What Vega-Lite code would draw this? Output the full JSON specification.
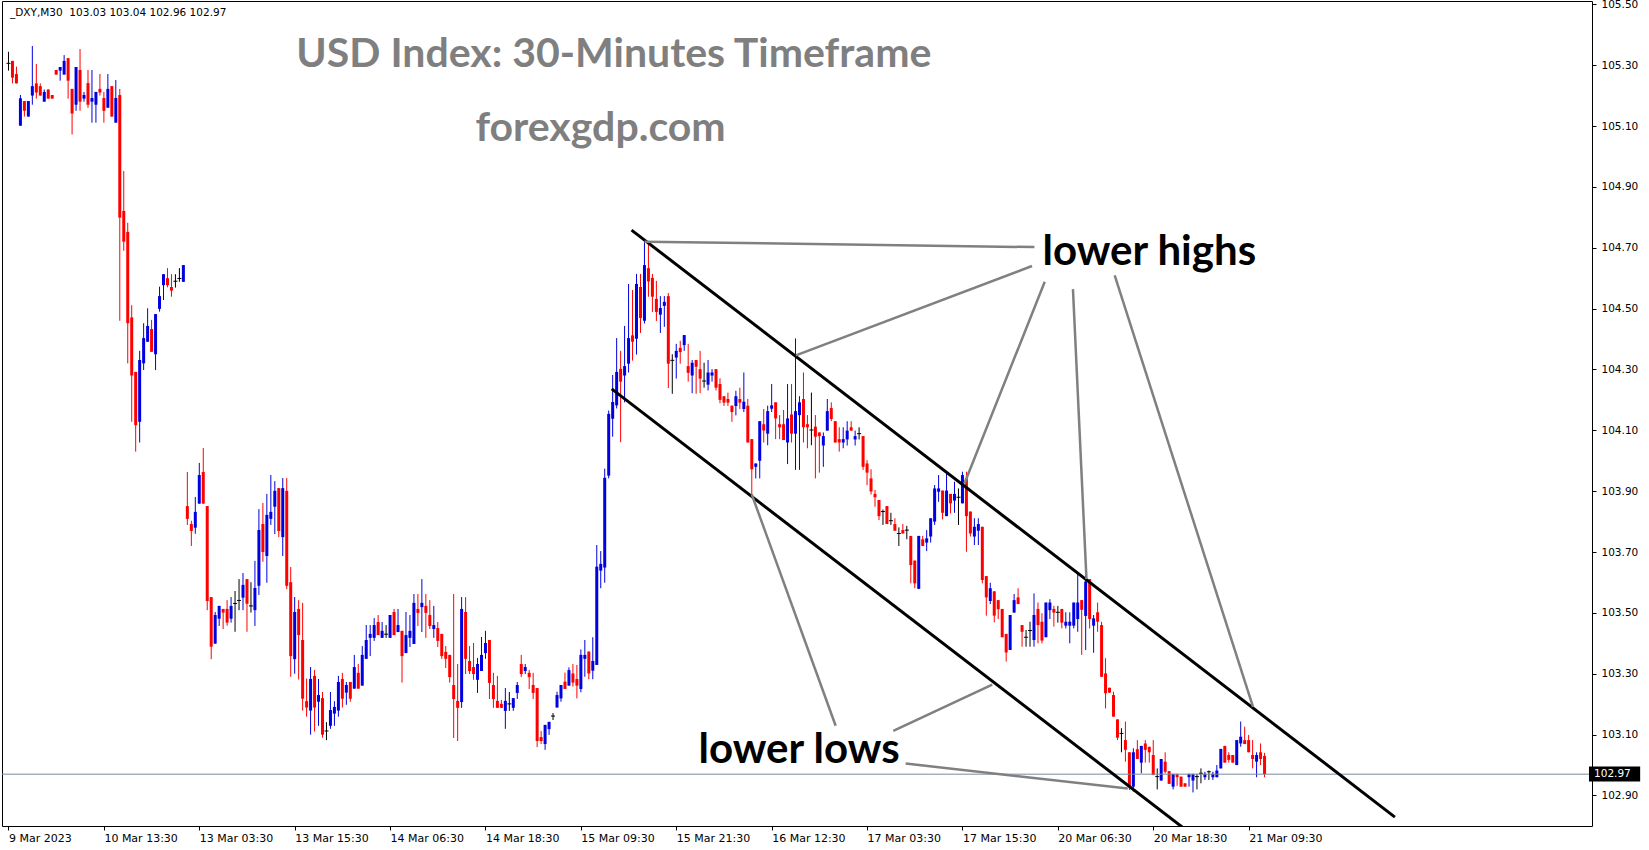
{
"$schema": "https://vega.github.io/schema/vega-lite/v6.json",
"width": 1590, "height": 825,
"autosize": {"type": "none"},
"padding": {"left": 2, "top": 1, "right": 57, "bottom": 24},
"background": "white",
"config": {"view": {"stroke": "#000000", "strokeWidth": 1}, "axis": {"grid": false, "domain": false, "labelFont": "DejaVu Sans", "labelColor": "#000000", "tickColor": "#000000"}},
"datasets": {
"candles": [
{"i":0,"o":105.306,"h":105.344,"l":105.282,"c":105.306},
{"i":1,"o":105.314,"h":105.314,"l":105.240,"c":105.259},
{"i":2,"o":105.271,"h":105.295,"l":105.240,"c":105.240},
{"i":3,"o":105.101,"h":105.202,"l":105.101,"c":105.191},
{"i":4,"o":105.182,"h":105.182,"l":105.131,"c":105.150},
{"i":5,"o":105.131,"h":105.182,"l":105.131,"c":105.182},
{"i":6,"o":105.200,"h":105.363,"l":105.170,"c":105.231},
{"i":7,"o":105.240,"h":105.304,"l":105.190,"c":105.210},
{"i":8,"o":105.231,"h":105.240,"l":105.200,"c":105.200},
{"i":9,"o":105.180,"h":105.220,"l":105.180,"c":105.212},
{"i":10,"o":105.220,"h":105.220,"l":105.190,"c":105.190},
{"i":11,"o":105.202,"h":105.202,"l":105.190,"c":105.190},
{"i":12,"o":105.284,"h":105.284,"l":105.269,"c":105.269},
{"i":13,"o":105.282,"h":105.294,"l":105.249,"c":105.294},
{"i":14,"o":105.269,"h":105.333,"l":105.269,"c":105.314},
{"i":15,"o":105.323,"h":105.323,"l":105.190,"c":105.249},
{"i":16,"o":105.222,"h":105.222,"l":105.072,"c":105.141},
{"i":17,"o":105.170,"h":105.294,"l":105.150,"c":105.294},
{"i":18,"o":105.284,"h":105.353,"l":105.150,"c":105.180},
{"i":19,"o":105.190,"h":105.212,"l":105.180,"c":105.202},
{"i":20,"o":105.241,"h":105.284,"l":105.160,"c":105.170},
{"i":21,"o":105.180,"h":105.284,"l":105.111,"c":105.192},
{"i":22,"o":105.170,"h":105.212,"l":105.111,"c":105.212},
{"i":23,"o":105.222,"h":105.271,"l":105.200,"c":105.210},
{"i":24,"o":105.192,"h":105.212,"l":105.111,"c":105.150},
{"i":25,"o":105.160,"h":105.271,"l":105.160,"c":105.222},
{"i":26,"o":105.231,"h":105.231,"l":105.131,"c":105.131},
{"i":27,"o":105.111,"h":105.251,"l":105.111,"c":105.192},
{"i":28,"o":105.202,"h":105.222,"l":104.460,"c":104.799},
{"i":29,"o":104.821,"h":104.952,"l":104.690,"c":104.720},
{"i":30,"o":104.752,"h":104.782,"l":104.320,"c":104.452},
{"i":31,"o":104.471,"h":104.511,"l":104.128,"c":104.280},
{"i":32,"o":104.292,"h":104.292,"l":104.030,"c":104.117},
{"i":33,"o":104.128,"h":104.361,"l":104.060,"c":104.331},
{"i":34,"o":104.320,"h":104.452,"l":104.298,"c":104.403},
{"i":35,"o":104.391,"h":104.501,"l":104.391,"c":104.443},
{"i":36,"o":104.433,"h":104.463,"l":104.358,"c":104.358},
{"i":37,"o":104.350,"h":104.482,"l":104.298,"c":104.482},
{"i":38,"o":104.499,"h":104.572,"l":104.490,"c":104.541},
{"i":39,"o":104.577,"h":104.613,"l":104.528,"c":104.613},
{"i":40,"o":104.600,"h":104.633,"l":104.570,"c":104.577},
{"i":41,"o":104.571,"h":104.613,"l":104.539,"c":104.559},
{"i":42,"o":104.590,"h":104.613,"l":104.569,"c":104.590},
{"i":43,"o":104.599,"h":104.633,"l":104.588,"c":104.599},
{"i":44,"o":104.588,"h":104.643,"l":104.588,"c":104.643},
{"i":45,"o":103.851,"h":103.963,"l":103.789,"c":103.809},
{"i":46,"o":103.792,"h":103.803,"l":103.720,"c":103.769},
{"i":47,"o":103.780,"h":103.881,"l":103.760,"c":103.832},
{"i":48,"o":103.859,"h":103.993,"l":103.859,"c":103.953},
{"i":49,"o":103.963,"h":104.042,"l":103.859,"c":103.859},
{"i":50,"o":103.851,"h":103.851,"l":103.509,"c":103.539},
{"i":51,"o":103.552,"h":103.552,"l":103.348,"c":103.389},
{"i":52,"o":103.399,"h":103.503,"l":103.399,"c":103.493},
{"i":53,"o":103.481,"h":103.523,"l":103.457,"c":103.523},
{"i":54,"o":103.513,"h":103.513,"l":103.447,"c":103.501},
{"i":55,"o":103.513,"h":103.542,"l":103.458,"c":103.468},
{"i":56,"o":103.481,"h":103.552,"l":103.468,"c":103.523},
{"i":57,"o":103.531,"h":103.572,"l":103.438,"c":103.531},
{"i":58,"o":103.541,"h":103.611,"l":103.509,"c":103.541},
{"i":59,"o":103.550,"h":103.631,"l":103.509,"c":103.592},
{"i":60,"o":103.611,"h":103.611,"l":103.438,"c":103.530},
{"i":61,"o":103.523,"h":103.601,"l":103.501,"c":103.523},
{"i":62,"o":103.509,"h":103.671,"l":103.457,"c":103.582},
{"i":63,"o":103.589,"h":103.841,"l":103.559,"c":103.772},
{"i":64,"o":103.792,"h":103.861,"l":103.668,"c":103.700},
{"i":65,"o":103.687,"h":103.891,"l":103.599,"c":103.822},
{"i":66,"o":103.809,"h":103.953,"l":103.789,"c":103.832},
{"i":67,"o":103.849,"h":103.933,"l":103.759,"c":103.901},
{"i":68,"o":103.910,"h":103.910,"l":103.749,"c":103.769},
{"i":69,"o":103.749,"h":103.943,"l":103.687,"c":103.910},
{"i":70,"o":103.901,"h":103.943,"l":103.578,"c":103.589},
{"i":71,"o":103.601,"h":103.651,"l":103.290,"c":103.358},
{"i":72,"o":103.348,"h":103.552,"l":103.300,"c":103.503},
{"i":73,"o":103.513,"h":103.542,"l":103.281,"c":103.427},
{"i":74,"o":103.411,"h":103.533,"l":103.179,"c":103.218},
{"i":75,"o":103.210,"h":103.284,"l":103.159,"c":103.189},
{"i":76,"o":103.179,"h":103.322,"l":103.100,"c":103.283},
{"i":77,"o":103.293,"h":103.312,"l":103.110,"c":103.189},
{"i":78,"o":103.208,"h":103.283,"l":103.129,"c":103.230},
{"i":79,"o":103.220,"h":103.240,"l":103.090,"c":103.100},
{"i":80,"o":103.112,"h":103.141,"l":103.082,"c":103.112},
{"i":81,"o":103.129,"h":103.240,"l":103.119,"c":103.181},
{"i":82,"o":103.169,"h":103.210,"l":103.129,"c":103.191},
{"i":83,"o":103.179,"h":103.293,"l":103.159,"c":103.273},
{"i":84,"o":103.283,"h":103.303,"l":103.189,"c":103.218},
{"i":85,"o":103.238,"h":103.273,"l":103.198,"c":103.263},
{"i":86,"o":103.273,"h":103.273,"l":103.208,"c":103.218},
{"i":87,"o":103.251,"h":103.362,"l":103.251,"c":103.322},
{"i":88,"o":103.303,"h":103.332,"l":103.251,"c":103.251},
{"i":89,"o":103.261,"h":103.391,"l":103.261,"c":103.362},
{"i":90,"o":103.349,"h":103.460,"l":103.349,"c":103.411},
{"i":91,"o":103.418,"h":103.460,"l":103.358,"c":103.431},
{"i":92,"o":103.418,"h":103.483,"l":103.408,"c":103.460},
{"i":93,"o":103.470,"h":103.493,"l":103.427,"c":103.427},
{"i":94,"o":103.418,"h":103.470,"l":103.418,"c":103.441},
{"i":95,"o":103.430,"h":103.460,"l":103.418,"c":103.430},
{"i":96,"o":103.418,"h":103.493,"l":103.418,"c":103.493},
{"i":97,"o":103.503,"h":103.513,"l":103.427,"c":103.427},
{"i":98,"o":103.437,"h":103.513,"l":103.437,"c":103.460},
{"i":99,"o":103.441,"h":103.441,"l":103.271,"c":103.358},
{"i":100,"o":103.368,"h":103.503,"l":103.368,"c":103.427},
{"i":101,"o":103.418,"h":103.493,"l":103.388,"c":103.441},
{"i":102,"o":103.398,"h":103.562,"l":103.398,"c":103.533},
{"i":103,"o":103.513,"h":103.562,"l":103.457,"c":103.500},
{"i":104,"o":103.519,"h":103.611,"l":103.437,"c":103.533},
{"i":105,"o":103.523,"h":103.562,"l":103.418,"c":103.500},
{"i":106,"o":103.493,"h":103.542,"l":103.447,"c":103.457},
{"i":107,"o":103.447,"h":103.523,"l":103.418,"c":103.460},
{"i":108,"o":103.450,"h":103.470,"l":103.388,"c":103.408},
{"i":109,"o":103.431,"h":103.431,"l":103.349,"c":103.358},
{"i":110,"o":103.372,"h":103.391,"l":103.319,"c":103.349},
{"i":111,"o":103.362,"h":103.362,"l":103.271,"c":103.289},
{"i":112,"o":103.263,"h":103.562,"l":103.089,"c":103.217},
{"i":113,"o":103.211,"h":103.332,"l":103.079,"c":103.188},
{"i":114,"o":103.207,"h":103.552,"l":103.188,"c":103.513},
{"i":115,"o":103.503,"h":103.552,"l":103.299,"c":103.349},
{"i":116,"o":103.342,"h":103.391,"l":103.299,"c":103.309},
{"i":117,"o":103.322,"h":103.401,"l":103.280,"c":103.299},
{"i":118,"o":103.280,"h":103.352,"l":103.237,"c":103.332},
{"i":119,"o":103.309,"h":103.421,"l":103.309,"c":103.362},
{"i":120,"o":103.368,"h":103.441,"l":103.349,"c":103.401},
{"i":121,"o":103.411,"h":103.411,"l":103.217,"c":103.270},
{"i":122,"o":103.263,"h":103.303,"l":103.188,"c":103.217},
{"i":123,"o":103.211,"h":103.293,"l":103.188,"c":103.188},
{"i":124,"o":103.201,"h":103.214,"l":103.188,"c":103.188},
{"i":125,"o":103.178,"h":103.253,"l":103.119,"c":103.211},
{"i":126,"o":103.201,"h":103.240,"l":103.178,"c":103.201},
{"i":127,"o":103.188,"h":103.220,"l":103.178,"c":103.220},
{"i":128,"o":103.237,"h":103.273,"l":103.217,"c":103.263},
{"i":129,"o":103.332,"h":103.362,"l":103.289,"c":103.299},
{"i":130,"o":103.309,"h":103.332,"l":103.299,"c":103.322},
{"i":131,"o":103.303,"h":103.312,"l":103.250,"c":103.289},
{"i":132,"o":103.263,"h":103.303,"l":103.217,"c":103.237},
{"i":133,"o":103.253,"h":103.253,"l":103.059,"c":103.079},
{"i":134,"o":103.092,"h":103.112,"l":103.069,"c":103.079},
{"i":135,"o":103.069,"h":103.132,"l":103.050,"c":103.132},
{"i":136,"o":103.118,"h":103.142,"l":103.099,"c":103.142},
{"i":137,"o":103.161,"h":103.171,"l":103.148,"c":103.161},
{"i":138,"o":103.189,"h":103.241,"l":103.189,"c":103.230},
{"i":139,"o":103.219,"h":103.263,"l":103.208,"c":103.263},
{"i":140,"o":103.274,"h":103.304,"l":103.250,"c":103.250},
{"i":141,"o":103.261,"h":103.321,"l":103.261,"c":103.312},
{"i":142,"o":103.301,"h":103.332,"l":103.258,"c":103.271},
{"i":143,"o":103.283,"h":103.329,"l":103.219,"c":103.261},
{"i":144,"o":103.250,"h":103.380,"l":103.239,"c":103.362},
{"i":145,"o":103.349,"h":103.411,"l":103.290,"c":103.362},
{"i":146,"o":103.373,"h":103.373,"l":103.282,"c":103.301},
{"i":147,"o":103.310,"h":103.420,"l":103.282,"c":103.342},
{"i":148,"o":103.329,"h":103.723,"l":103.329,"c":103.652},
{"i":149,"o":103.639,"h":103.703,"l":103.581,"c":103.661},
{"i":150,"o":103.649,"h":103.974,"l":103.599,"c":103.944},
{"i":151,"o":103.951,"h":104.165,"l":103.942,"c":104.154},
{"i":152,"o":104.138,"h":104.282,"l":104.079,"c":104.193},
{"i":153,"o":104.182,"h":104.403,"l":104.172,"c":104.292},
{"i":154,"o":104.302,"h":104.361,"l":104.061,"c":104.260},
{"i":155,"o":104.280,"h":104.443,"l":104.192,"c":104.311},
{"i":156,"o":104.319,"h":104.581,"l":104.290,"c":104.403},
{"i":157,"o":104.412,"h":104.561,"l":104.329,"c":104.391},
{"i":158,"o":104.401,"h":104.614,"l":104.349,"c":104.581},
{"i":159,"o":104.571,"h":104.614,"l":104.420,"c":104.469},
{"i":160,"o":104.460,"h":104.722,"l":104.451,"c":104.643},
{"i":161,"o":104.633,"h":104.719,"l":104.539,"c":104.589},
{"i":162,"o":104.601,"h":104.614,"l":104.489,"c":104.539},
{"i":163,"o":104.532,"h":104.591,"l":104.459,"c":104.489},
{"i":164,"o":104.480,"h":104.541,"l":104.420,"c":104.502},
{"i":165,"o":104.509,"h":104.541,"l":104.440,"c":104.522},
{"i":166,"o":104.541,"h":104.551,"l":104.239,"c":104.319},
{"i":167,"o":104.330,"h":104.350,"l":104.220,"c":104.330},
{"i":168,"o":104.339,"h":104.384,"l":104.270,"c":104.361},
{"i":169,"o":104.371,"h":104.394,"l":104.319,"c":104.357},
{"i":170,"o":104.380,"h":104.413,"l":104.361,"c":104.413},
{"i":171,"o":104.311,"h":104.384,"l":104.260,"c":104.289},
{"i":172,"o":104.280,"h":104.331,"l":104.222,"c":104.322},
{"i":173,"o":104.331,"h":104.331,"l":104.220,"c":104.309},
{"i":174,"o":104.301,"h":104.361,"l":104.222,"c":104.270},
{"i":175,"o":104.262,"h":104.322,"l":104.240,"c":104.262},
{"i":176,"o":104.250,"h":104.331,"l":104.231,"c":104.290},
{"i":177,"o":104.280,"h":104.301,"l":104.260,"c":104.290},
{"i":178,"o":104.301,"h":104.301,"l":104.231,"c":104.240},
{"i":179,"o":104.252,"h":104.271,"l":104.189,"c":104.200},
{"i":180,"o":104.212,"h":104.212,"l":104.180,"c":104.191},
{"i":181,"o":104.203,"h":104.224,"l":104.180,"c":104.191},
{"i":182,"o":104.181,"h":104.181,"l":104.128,"c":104.160},
{"i":183,"o":104.180,"h":104.230,"l":104.149,"c":104.212},
{"i":184,"o":104.203,"h":104.240,"l":104.170,"c":104.191},
{"i":185,"o":104.170,"h":104.290,"l":104.160,"c":104.194},
{"i":186,"o":104.181,"h":104.203,"l":104.060,"c":104.060},
{"i":187,"o":104.071,"h":104.071,"l":103.889,"c":103.972},
{"i":188,"o":103.980,"h":103.991,"l":103.942,"c":103.991},
{"i":189,"o":104.000,"h":104.130,"l":103.942,"c":104.130},
{"i":190,"o":104.120,"h":104.170,"l":104.060,"c":104.099},
{"i":191,"o":104.089,"h":104.181,"l":104.051,"c":104.163},
{"i":192,"o":104.171,"h":104.252,"l":104.160,"c":104.182},
{"i":193,"o":104.192,"h":104.192,"l":104.071,"c":104.139},
{"i":194,"o":104.120,"h":104.150,"l":104.071,"c":104.110},
{"i":195,"o":104.120,"h":104.167,"l":104.068,"c":104.068},
{"i":196,"o":104.060,"h":104.252,"l":103.989,"c":104.139},
{"i":197,"o":104.152,"h":104.252,"l":104.060,"c":104.089},
{"i":198,"o":104.089,"h":104.402,"l":103.970,"c":104.163},
{"i":199,"o":104.150,"h":104.212,"l":103.970,"c":104.192},
{"i":200,"o":104.203,"h":104.290,"l":104.060,"c":104.110},
{"i":201,"o":104.120,"h":104.150,"l":104.041,"c":104.110},
{"i":202,"o":104.101,"h":104.224,"l":104.051,"c":104.101},
{"i":203,"o":104.112,"h":104.150,"l":103.942,"c":104.079},
{"i":204,"o":104.093,"h":104.093,"l":103.961,"c":104.081},
{"i":205,"o":104.050,"h":104.093,"l":103.980,"c":104.081},
{"i":206,"o":104.099,"h":104.203,"l":104.099,"c":104.163},
{"i":207,"o":104.173,"h":104.192,"l":104.130,"c":104.137},
{"i":208,"o":104.130,"h":104.130,"l":104.060,"c":104.060},
{"i":209,"o":104.071,"h":104.110,"l":104.030,"c":104.060},
{"i":210,"o":104.060,"h":104.110,"l":104.041,"c":104.071},
{"i":211,"o":104.070,"h":104.130,"l":104.050,"c":104.099},
{"i":212,"o":104.110,"h":104.130,"l":104.099,"c":104.099},
{"i":213,"o":104.070,"h":104.099,"l":104.050,"c":104.081},
{"i":214,"o":104.089,"h":104.110,"l":104.070,"c":104.089},
{"i":215,"o":104.081,"h":104.081,"l":103.970,"c":103.980},
{"i":216,"o":103.991,"h":104.002,"l":103.920,"c":103.961},
{"i":217,"o":103.942,"h":103.972,"l":103.889,"c":103.899},
{"i":218,"o":103.891,"h":103.904,"l":103.849,"c":103.880},
{"i":219,"o":103.871,"h":103.871,"l":103.805,"c":103.818},
{"i":220,"o":103.833,"h":103.840,"l":103.789,"c":103.833},
{"i":221,"o":103.851,"h":103.851,"l":103.792,"c":103.792},
{"i":222,"o":103.803,"h":103.829,"l":103.789,"c":103.803},
{"i":223,"o":103.792,"h":103.811,"l":103.770,"c":103.770},
{"i":224,"o":103.761,"h":103.781,"l":103.720,"c":103.761},
{"i":225,"o":103.772,"h":103.792,"l":103.761,"c":103.761},
{"i":226,"o":103.772,"h":103.786,"l":103.742,"c":103.772},
{"i":227,"o":103.753,"h":103.753,"l":103.597,"c":103.657},
{"i":228,"o":103.672,"h":103.672,"l":103.581,"c":103.597},
{"i":229,"o":103.579,"h":103.753,"l":103.579,"c":103.753},
{"i":230,"o":103.742,"h":103.753,"l":103.720,"c":103.720},
{"i":231,"o":103.731,"h":103.772,"l":103.703,"c":103.745},
{"i":232,"o":103.751,"h":103.811,"l":103.731,"c":103.811},
{"i":233,"o":103.800,"h":103.920,"l":103.789,"c":103.909},
{"i":234,"o":103.898,"h":103.953,"l":103.865,"c":103.909},
{"i":235,"o":103.902,"h":103.902,"l":103.807,"c":103.829},
{"i":236,"o":103.818,"h":103.959,"l":103.818,"c":103.902},
{"i":237,"o":103.891,"h":103.891,"l":103.827,"c":103.860},
{"i":238,"o":103.869,"h":103.931,"l":103.829,"c":103.891},
{"i":239,"o":103.880,"h":103.909,"l":103.789,"c":103.880},
{"i":240,"o":103.860,"h":103.964,"l":103.860,"c":103.953},
{"i":241,"o":103.942,"h":103.964,"l":103.701,"c":103.818},
{"i":242,"o":103.833,"h":103.833,"l":103.751,"c":103.761},
{"i":243,"o":103.751,"h":103.811,"l":103.723,"c":103.783},
{"i":244,"o":103.770,"h":103.811,"l":103.723,"c":103.792},
{"i":245,"o":103.783,"h":103.783,"l":103.597,"c":103.608},
{"i":246,"o":103.621,"h":103.621,"l":103.491,"c":103.551},
{"i":247,"o":103.539,"h":103.599,"l":103.529,"c":103.581},
{"i":248,"o":103.571,"h":103.571,"l":103.469,"c":103.491},
{"i":249,"o":103.542,"h":103.542,"l":103.480,"c":103.512},
{"i":250,"o":103.513,"h":103.513,"l":103.420,"c":103.420},
{"i":251,"o":103.431,"h":103.431,"l":103.340,"c":103.370},
{"i":252,"o":103.378,"h":103.493,"l":103.378,"c":103.493},
{"i":253,"o":103.501,"h":103.562,"l":103.501,"c":103.542},
{"i":254,"o":103.551,"h":103.581,"l":103.529,"c":103.529},
{"i":255,"o":103.460,"h":103.460,"l":103.389,"c":103.438},
{"i":256,"o":103.420,"h":103.444,"l":103.389,"c":103.420},
{"i":257,"o":103.442,"h":103.471,"l":103.389,"c":103.442},
{"i":258,"o":103.411,"h":103.564,"l":103.389,"c":103.493},
{"i":259,"o":103.513,"h":103.534,"l":103.400,"c":103.460},
{"i":260,"o":103.471,"h":103.499,"l":103.400,"c":103.409},
{"i":261,"o":103.420,"h":103.534,"l":103.420,"c":103.534},
{"i":262,"o":103.509,"h":103.545,"l":103.480,"c":103.534},
{"i":263,"o":103.513,"h":103.523,"l":103.455,"c":103.501},
{"i":264,"o":103.502,"h":103.523,"l":103.468,"c":103.502},
{"i":265,"o":103.513,"h":103.513,"l":103.449,"c":103.468},
{"i":266,"o":103.458,"h":103.502,"l":103.449,"c":103.471},
{"i":267,"o":103.458,"h":103.502,"l":103.400,"c":103.471},
{"i":268,"o":103.458,"h":103.534,"l":103.449,"c":103.534},
{"i":269,"o":103.480,"h":103.630,"l":103.438,"c":103.534},
{"i":270,"o":103.542,"h":103.542,"l":103.362,"c":103.510},
{"i":271,"o":103.490,"h":103.630,"l":103.378,"c":103.603},
{"i":272,"o":103.611,"h":103.611,"l":103.449,"c":103.480},
{"i":273,"o":103.458,"h":103.493,"l":103.369,"c":103.482},
{"i":274,"o":103.502,"h":103.534,"l":103.438,"c":103.471},
{"i":275,"o":103.460,"h":103.471,"l":103.290,"c":103.290},
{"i":276,"o":103.301,"h":103.351,"l":103.186,"c":103.236},
{"i":277,"o":103.254,"h":103.254,"l":103.238,"c":103.238},
{"i":278,"o":103.230,"h":103.241,"l":103.159,"c":103.159},
{"i":279,"o":103.150,"h":103.150,"l":103.082,"c":103.090},
{"i":280,"o":103.104,"h":103.121,"l":103.042,"c":103.104},
{"i":281,"o":103.082,"h":103.143,"l":103.011,"c":103.050},
{"i":282,"o":103.042,"h":103.042,"l":102.918,"c":102.929},
{"i":283,"o":102.929,"h":103.055,"l":102.913,"c":103.042},
{"i":284,"o":103.052,"h":103.082,"l":103.020,"c":103.020},
{"i":285,"o":103.008,"h":103.063,"l":102.973,"c":103.063},
{"i":286,"o":103.071,"h":103.082,"l":103.008,"c":103.050},
{"i":287,"o":103.060,"h":103.060,"l":103.008,"c":103.042},
{"i":288,"o":103.033,"h":103.082,"l":102.967,"c":102.967},
{"i":289,"o":102.962,"h":102.989,"l":102.920,"c":102.962},
{"i":290,"o":102.949,"h":103.020,"l":102.949,"c":103.020},
{"i":291,"o":103.011,"h":103.042,"l":102.973,"c":102.978},
{"i":292,"o":102.980,"h":102.980,"l":102.938,"c":102.938},
{"i":293,"o":102.929,"h":102.971,"l":102.920,"c":102.971},
{"i":294,"o":102.971,"h":102.971,"l":102.932,"c":102.960},
{"i":295,"o":102.962,"h":102.962,"l":102.929,"c":102.929},
{"i":296,"o":102.940,"h":102.940,"l":102.929,"c":102.929},
{"i":297,"o":102.960,"h":102.971,"l":102.929,"c":102.971},
{"i":298,"o":102.949,"h":102.971,"l":102.910,"c":102.971},
{"i":299,"o":102.962,"h":102.971,"l":102.920,"c":102.962},
{"i":300,"o":102.973,"h":102.989,"l":102.940,"c":102.973},
{"i":301,"o":102.960,"h":102.978,"l":102.951,"c":102.971},
{"i":302,"o":102.978,"h":102.982,"l":102.951,"c":102.978},
{"i":303,"o":102.960,"h":102.978,"l":102.951,"c":102.971},
{"i":304,"o":102.960,"h":103.000,"l":102.960,"c":102.982},
{"i":305,"o":102.989,"h":103.053,"l":102.989,"c":103.053},
{"i":306,"o":103.063,"h":103.063,"l":103.008,"c":103.008},
{"i":307,"o":103.033,"h":103.042,"l":103.008,"c":103.017},
{"i":308,"o":103.033,"h":103.033,"l":103.008,"c":103.008},
{"i":309,"o":103.000,"h":103.082,"l":103.000,"c":103.082},
{"i":310,"o":103.071,"h":103.143,"l":103.060,"c":103.093},
{"i":311,"o":103.082,"h":103.126,"l":103.069,"c":103.069},
{"i":312,"o":103.082,"h":103.099,"l":103.042,"c":103.042},
{"i":313,"o":103.033,"h":103.082,"l":102.989,"c":103.020},
{"i":314,"o":103.011,"h":103.042,"l":102.960,"c":103.033},
{"i":315,"o":103.042,"h":103.071,"l":103.000,"c":103.020},
{"i":316,"o":103.030,"h":103.040,"l":102.960,"c":102.970}
],
"channel": [
{"seg":"upper","i":156.75,"p":104.758},{"seg":"upper","i":348.8,"p":102.829},
{"seg":"lower","i":151.75,"p":104.236},{"seg":"lower","i":300,"p":102.749}
],
"pointers": [
{"seg":"h0","i":160,"p":104.72},{"seg":"h0","i":258.1,"p":104.702},
{"seg":"h1","i":257.5,"p":104.64},{"seg":"h1","i":198.1,"p":104.346},
{"seg":"h2","i":260.7,"p":104.588},{"seg":"h2","i":240.5,"p":103.925},
{"seg":"h3","i":267.8,"p":104.564},{"seg":"h3","i":271.2,"p":103.611},
{"seg":"h4","i":278.3,"p":104.609},{"seg":"h4","i":313.1,"p":103.191},
{"seg":"l1","i":208.1,"p":103.129},{"seg":"l1","i":187,"p":103.889},
{"seg":"l2","i":222.6,"p":103.112},{"seg":"l2","i":247.5,"p":103.264},
{"seg":"l3","i":225.7,"p":103.005},{"seg":"l3","i":281.6,"p":102.923}
],
"notes": [
{"i":287,"p":104.643,"label":"lower highs"},
{"i":198.9,"p":103.008,"label":"lower lows"}
],
"titles": [
{"i":152.3,"p":105.293,"label":"USD Index: 30-Minutes Timeframe"},
{"i":148.95,"p":105.051,"label":"forexgdp.com"}
],
"header": [
{"i":0.375,"p":105.471,"label":"_DXY,M30\u00a0 103.03 103.04 102.96 102.97"}
],
"price": [
{"p":102.97,"p0":102.946,"p1":102.995,"i0":397.625,"i1":410.5,"it":398.9,"label":"102.97"}
]
},
"layer": [
{
"data": {"name": "candles"},
"mark": {"type": "rule", "strokeWidth": 1},
"encoding": {
"x": {"field": "i", "type": "quantitative", "scale": {"domain": [-0.375, 397.125], "nice": false, "zero": false},
 "axis": {"orient": "bottom", "title": null, "values": [0,24,48,72,96,120,144,168,192,216,240,264,288,312], "labelExpr": "['9 Mar 2023','10 Mar 13:30','13 Mar 03:30','13 Mar 15:30','14 Mar 06:30','14 Mar 18:30','15 Mar 09:30','15 Mar 21:30','16 Mar 12:30','17 Mar 03:30','17 Mar 15:30','20 Mar 06:30','20 Mar 18:30','21 Mar 09:30'][round(datum.value/24)]", "labelAlign": "left", "labelFlush": false, "labelFontSize": 11, "tickSize": 4, "labelPadding": 2, "labelOverlap": false}},
"y": {"field": "l", "type": "quantitative", "scale": {"domain": [102.7997, 105.5108], "nice": false, "zero": false},
 "axis": {"orient": "right", "title": null, "values": [102.9,103.1,103.3,103.5,103.7,103.9,104.1,104.3,104.5,104.7,104.9,105.1,105.3,105.5], "format": ".2f", "labelFontSize": 10.5, "tickSize": 4, "labelPadding": 5, "labelOverlap": false}},
"y2": {"field": "h"},
"color": {"condition": [{"test": "datum.c > datum.o", "value": "#0000e0"}, {"test": "datum.c < datum.o", "value": "#ff0000"}], "value": "#000000"}
}
},
{
"data": {"name": "candles"},
"mark": {"type": "bar", "size": 3, "orient": "vertical"},
"encoding": {
"x": {"field": "i", "type": "quantitative", "scale": {"domain": [-0.375, 397.125], "nice": false, "zero": false},
 "axis": {"orient": "bottom", "title": null, "values": [0,24,48,72,96,120,144,168,192,216,240,264,288,312], "labelExpr": "['9 Mar 2023','10 Mar 13:30','13 Mar 03:30','13 Mar 15:30','14 Mar 06:30','14 Mar 18:30','15 Mar 09:30','15 Mar 21:30','16 Mar 12:30','17 Mar 03:30','17 Mar 15:30','20 Mar 06:30','20 Mar 18:30','21 Mar 09:30'][round(datum.value/24)]", "labelAlign": "left", "labelFlush": false, "labelFontSize": 11, "tickSize": 4, "labelPadding": 2, "labelOverlap": false}},
"y": {"field": "o", "type": "quantitative", "scale": {"domain": [102.7997, 105.5108], "nice": false, "zero": false},
 "axis": {"orient": "right", "title": null, "values": [102.9,103.1,103.3,103.5,103.7,103.9,104.1,104.3,104.5,104.7,104.9,105.1,105.3,105.5], "format": ".2f", "labelFontSize": 10.5, "tickSize": 4, "labelPadding": 5, "labelOverlap": false}},
"y2": {"field": "c"},
"color": {"condition": [{"test": "datum.c > datum.o", "value": "#0000e0"}, {"test": "datum.c < datum.o", "value": "#ff0000"}], "value": "#000000"}
}
},
{
"data": {"name": "candles"},
"transform": [{"filter": "datum.o == datum.c"}],
"mark": {"type": "tick", "orient": "horizontal", "size": 4, "thickness": 1, "color": "#000000", "opacity": 1},
"encoding": {
"x": {"field": "i", "type": "quantitative", "scale": {"domain": [-0.375, 397.125], "nice": false, "zero": false},
 "axis": {"orient": "bottom", "title": null, "values": [0,24,48,72,96,120,144,168,192,216,240,264,288,312], "labelExpr": "['9 Mar 2023','10 Mar 13:30','13 Mar 03:30','13 Mar 15:30','14 Mar 06:30','14 Mar 18:30','15 Mar 09:30','15 Mar 21:30','16 Mar 12:30','17 Mar 03:30','17 Mar 15:30','20 Mar 06:30','20 Mar 18:30','21 Mar 09:30'][round(datum.value/24)]", "labelAlign": "left", "labelFlush": false, "labelFontSize": 11, "tickSize": 4, "labelPadding": 2, "labelOverlap": false}},
"y": {"field": "c", "type": "quantitative", "scale": {"domain": [102.7997, 105.5108], "nice": false, "zero": false},
 "axis": {"orient": "right", "title": null, "values": [102.9,103.1,103.3,103.5,103.7,103.9,104.1,104.3,104.5,104.7,104.9,105.1,105.3,105.5], "format": ".2f", "labelFontSize": 10.5, "tickSize": 4, "labelPadding": 5, "labelOverlap": false}}
}
},
{
"data": {"name": "price"},
"mark": {"type": "rule", "color": "#7a8a99", "strokeWidth": 1},
"encoding": {
"y": {"field": "p", "type": "quantitative", "scale": {"domain": [102.7997, 105.5108], "nice": false, "zero": false},
 "axis": {"orient": "right", "title": null, "values": [102.9,103.1,103.3,103.5,103.7,103.9,104.1,104.3,104.5,104.7,104.9,105.1,105.3,105.5], "format": ".2f", "labelFontSize": 10.5, "tickSize": 4, "labelPadding": 5, "labelOverlap": false}}
}
},
{
"data": {"name": "channel"},
"mark": {"type": "line", "color": "#000000", "strokeWidth": 3, "clip": true},
"encoding": {
"x": {"field": "i", "type": "quantitative", "scale": {"domain": [-0.375, 397.125], "nice": false, "zero": false},
 "axis": {"orient": "bottom", "title": null, "values": [0,24,48,72,96,120,144,168,192,216,240,264,288,312], "labelExpr": "['9 Mar 2023','10 Mar 13:30','13 Mar 03:30','13 Mar 15:30','14 Mar 06:30','14 Mar 18:30','15 Mar 09:30','15 Mar 21:30','16 Mar 12:30','17 Mar 03:30','17 Mar 15:30','20 Mar 06:30','20 Mar 18:30','21 Mar 09:30'][round(datum.value/24)]", "labelAlign": "left", "labelFlush": false, "labelFontSize": 11, "tickSize": 4, "labelPadding": 2, "labelOverlap": false}},
"y": {"field": "p", "type": "quantitative", "scale": {"domain": [102.7997, 105.5108], "nice": false, "zero": false},
 "axis": {"orient": "right", "title": null, "values": [102.9,103.1,103.3,103.5,103.7,103.9,104.1,104.3,104.5,104.7,104.9,105.1,105.3,105.5], "format": ".2f", "labelFontSize": 10.5, "tickSize": 4, "labelPadding": 5, "labelOverlap": false}},
"detail": {"field": "seg"}
}
},
{
"data": {"name": "pointers"},
"mark": {"type": "line", "color": "#808080", "strokeWidth": 2.5, "clip": true},
"encoding": {
"x": {"field": "i", "type": "quantitative", "scale": {"domain": [-0.375, 397.125], "nice": false, "zero": false},
 "axis": {"orient": "bottom", "title": null, "values": [0,24,48,72,96,120,144,168,192,216,240,264,288,312], "labelExpr": "['9 Mar 2023','10 Mar 13:30','13 Mar 03:30','13 Mar 15:30','14 Mar 06:30','14 Mar 18:30','15 Mar 09:30','15 Mar 21:30','16 Mar 12:30','17 Mar 03:30','17 Mar 15:30','20 Mar 06:30','20 Mar 18:30','21 Mar 09:30'][round(datum.value/24)]", "labelAlign": "left", "labelFlush": false, "labelFontSize": 11, "tickSize": 4, "labelPadding": 2, "labelOverlap": false}},
"y": {"field": "p", "type": "quantitative", "scale": {"domain": [102.7997, 105.5108], "nice": false, "zero": false},
 "axis": {"orient": "right", "title": null, "values": [102.9,103.1,103.3,103.5,103.7,103.9,104.1,104.3,104.5,104.7,104.9,105.1,105.3,105.5], "format": ".2f", "labelFontSize": 10.5, "tickSize": 4, "labelPadding": 5, "labelOverlap": false}},
"detail": {"field": "seg"}
}
},
{
"data": {"name": "notes"},
"mark": {"type": "text", "font": "Lato", "fontWeight": "bold", "fontSize": 42, "color": "#000000", "align": "center", "baseline": "alphabetic"},
"encoding": {
"x": {"field": "i", "type": "quantitative", "scale": {"domain": [-0.375, 397.125], "nice": false, "zero": false},
 "axis": {"orient": "bottom", "title": null, "values": [0,24,48,72,96,120,144,168,192,216,240,264,288,312], "labelExpr": "['9 Mar 2023','10 Mar 13:30','13 Mar 03:30','13 Mar 15:30','14 Mar 06:30','14 Mar 18:30','15 Mar 09:30','15 Mar 21:30','16 Mar 12:30','17 Mar 03:30','17 Mar 15:30','20 Mar 06:30','20 Mar 18:30','21 Mar 09:30'][round(datum.value/24)]", "labelAlign": "left", "labelFlush": false, "labelFontSize": 11, "tickSize": 4, "labelPadding": 2, "labelOverlap": false}},
"y": {"field": "p", "type": "quantitative", "scale": {"domain": [102.7997, 105.5108], "nice": false, "zero": false},
 "axis": {"orient": "right", "title": null, "values": [102.9,103.1,103.3,103.5,103.7,103.9,104.1,104.3,104.5,104.7,104.9,105.1,105.3,105.5], "format": ".2f", "labelFontSize": 10.5, "tickSize": 4, "labelPadding": 5, "labelOverlap": false}},
"text": {"field": "label"}
}
},
{
"data": {"name": "titles"},
"mark": {"type": "text", "font": "Lato", "fontWeight": "bold", "fontSize": 41, "color": "#7f7f7f", "align": "center", "baseline": "alphabetic"},
"encoding": {
"x": {"field": "i", "type": "quantitative", "scale": {"domain": [-0.375, 397.125], "nice": false, "zero": false},
 "axis": {"orient": "bottom", "title": null, "values": [0,24,48,72,96,120,144,168,192,216,240,264,288,312], "labelExpr": "['9 Mar 2023','10 Mar 13:30','13 Mar 03:30','13 Mar 15:30','14 Mar 06:30','14 Mar 18:30','15 Mar 09:30','15 Mar 21:30','16 Mar 12:30','17 Mar 03:30','17 Mar 15:30','20 Mar 06:30','20 Mar 18:30','21 Mar 09:30'][round(datum.value/24)]", "labelAlign": "left", "labelFlush": false, "labelFontSize": 11, "tickSize": 4, "labelPadding": 2, "labelOverlap": false}},
"y": {"field": "p", "type": "quantitative", "scale": {"domain": [102.7997, 105.5108], "nice": false, "zero": false},
 "axis": {"orient": "right", "title": null, "values": [102.9,103.1,103.3,103.5,103.7,103.9,104.1,104.3,104.5,104.7,104.9,105.1,105.3,105.5], "format": ".2f", "labelFontSize": 10.5, "tickSize": 4, "labelPadding": 5, "labelOverlap": false}},
"text": {"field": "label"}
}
},
{
"data": {"name": "header"},
"mark": {"type": "text", "font": "DejaVu Sans", "fontSize": 10.5, "color": "#000000", "align": "left", "baseline": "middle"},
"encoding": {
"x": {"field": "i", "type": "quantitative", "scale": {"domain": [-0.375, 397.125], "nice": false, "zero": false},
 "axis": {"orient": "bottom", "title": null, "values": [0,24,48,72,96,120,144,168,192,216,240,264,288,312], "labelExpr": "['9 Mar 2023','10 Mar 13:30','13 Mar 03:30','13 Mar 15:30','14 Mar 06:30','14 Mar 18:30','15 Mar 09:30','15 Mar 21:30','16 Mar 12:30','17 Mar 03:30','17 Mar 15:30','20 Mar 06:30','20 Mar 18:30','21 Mar 09:30'][round(datum.value/24)]", "labelAlign": "left", "labelFlush": false, "labelFontSize": 11, "tickSize": 4, "labelPadding": 2, "labelOverlap": false}},
"y": {"field": "p", "type": "quantitative", "scale": {"domain": [102.7997, 105.5108], "nice": false, "zero": false},
 "axis": {"orient": "right", "title": null, "values": [102.9,103.1,103.3,103.5,103.7,103.9,104.1,104.3,104.5,104.7,104.9,105.1,105.3,105.5], "format": ".2f", "labelFontSize": 10.5, "tickSize": 4, "labelPadding": 5, "labelOverlap": false}},
"text": {"field": "label"}
}
},
{
"data": {"name": "price"},
"mark": {"type": "rect", "color": "#000000"},
"encoding": {
"x": {"field": "i0", "type": "quantitative", "scale": {"domain": [-0.375, 397.125], "nice": false, "zero": false},
 "axis": {"orient": "bottom", "title": null, "values": [0,24,48,72,96,120,144,168,192,216,240,264,288,312], "labelExpr": "['9 Mar 2023','10 Mar 13:30','13 Mar 03:30','13 Mar 15:30','14 Mar 06:30','14 Mar 18:30','15 Mar 09:30','15 Mar 21:30','16 Mar 12:30','17 Mar 03:30','17 Mar 15:30','20 Mar 06:30','20 Mar 18:30','21 Mar 09:30'][round(datum.value/24)]", "labelAlign": "left", "labelFlush": false, "labelFontSize": 11, "tickSize": 4, "labelPadding": 2, "labelOverlap": false}},
"x2": {"field": "i1"},
"y": {"field": "p0", "type": "quantitative", "scale": {"domain": [102.7997, 105.5108], "nice": false, "zero": false},
 "axis": {"orient": "right", "title": null, "values": [102.9,103.1,103.3,103.5,103.7,103.9,104.1,104.3,104.5,104.7,104.9,105.1,105.3,105.5], "format": ".2f", "labelFontSize": 10.5, "tickSize": 4, "labelPadding": 5, "labelOverlap": false}},
"y2": {"field": "p1"}
}
},
{
"data": {"name": "price"},
"mark": {"type": "text", "font": "DejaVu Sans", "fontSize": 10.5, "color": "#ffffff", "align": "left", "baseline": "middle"},
"encoding": {
"x": {"field": "it", "type": "quantitative", "scale": {"domain": [-0.375, 397.125], "nice": false, "zero": false},
 "axis": {"orient": "bottom", "title": null, "values": [0,24,48,72,96,120,144,168,192,216,240,264,288,312], "labelExpr": "['9 Mar 2023','10 Mar 13:30','13 Mar 03:30','13 Mar 15:30','14 Mar 06:30','14 Mar 18:30','15 Mar 09:30','15 Mar 21:30','16 Mar 12:30','17 Mar 03:30','17 Mar 15:30','20 Mar 06:30','20 Mar 18:30','21 Mar 09:30'][round(datum.value/24)]", "labelAlign": "left", "labelFlush": false, "labelFontSize": 11, "tickSize": 4, "labelPadding": 2, "labelOverlap": false}},
"y": {"field": "p", "type": "quantitative", "scale": {"domain": [102.7997, 105.5108], "nice": false, "zero": false},
 "axis": {"orient": "right", "title": null, "values": [102.9,103.1,103.3,103.5,103.7,103.9,104.1,104.3,104.5,104.7,104.9,105.1,105.3,105.5], "format": ".2f", "labelFontSize": 10.5, "tickSize": 4, "labelPadding": 5, "labelOverlap": false}},
"text": {"field": "label"}
}
}
]
}
